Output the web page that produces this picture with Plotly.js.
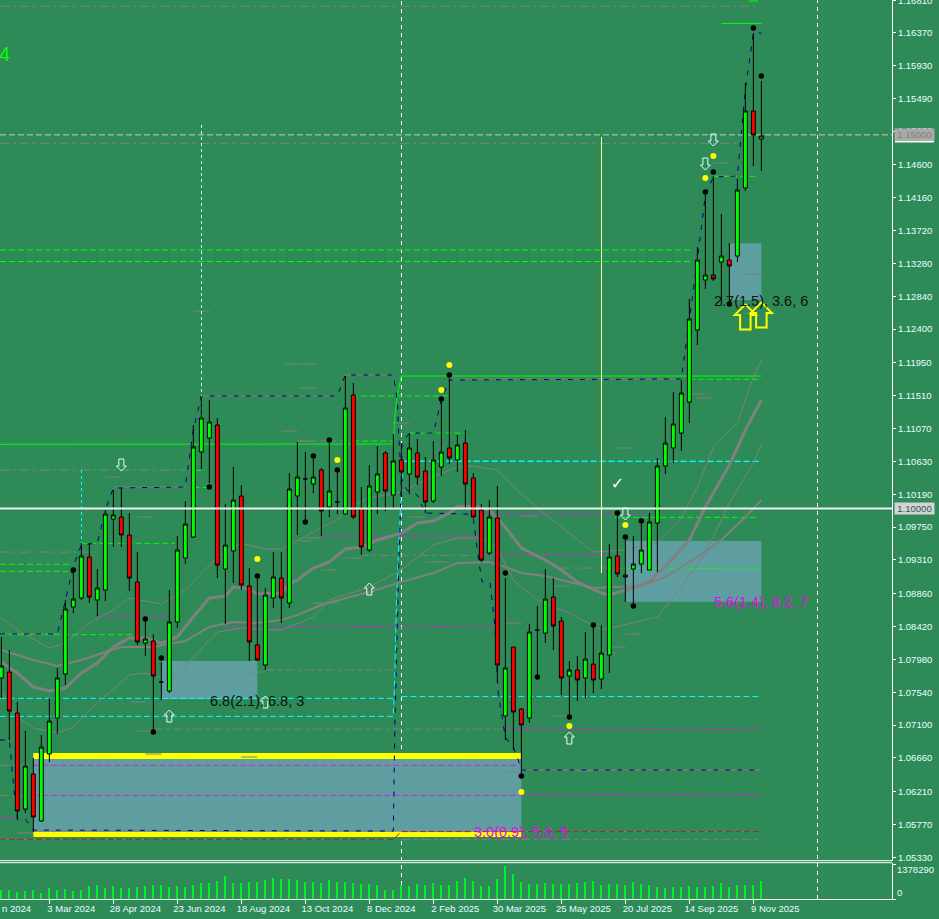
<!DOCTYPE html>
<html><head><meta charset="utf-8">
<script src="https://cdn.plot.ly/plotly-3.0.1.min.js"></script>
<style>html,body{margin:0;padding:0;background:#2E8B57;overflow:hidden}#c{width:939px;height:919px}</style>
</head><body><div id="c"></div>
<script>
// ---------- weekly candles, bar index 0..95 ----------
const barOpen=[1.07730,1.07810,1.07262,1.05977,1.06445,1.05816,1.06713,1.07195,1.07784,1.08680,1.08801,1.09350,1.08774,1.08908,1.09858,1.09885,1.09644,1.09015,1.08198,1.08225,1.07676,1.07556,1.08480,1.09336,1.09617,1.10755,1.10942,1.11116,1.09189,1.09430,1.10166,1.08961,1.08172,1.07904,1.08801,1.09068,1.08734,1.10166,1.10394,1.10327,1.10514,1.10019,1.10086,1.09925,1.11518,1.10005,1.09443,1.10220,1.10742,1.10179,1.10648,1.10461,1.10742,1.10501,1.10099,1.10554,1.10809,1.10648,1.10875,1.10407,1.09979,1.09403,1.09872,1.07221,1.08145,1.07315,1.07195,1.08372,1.08332,1.08814,1.08493,1.07757,1.07837,1.07730,1.07917,1.07717,1.08038,1.09363,1.09109,1.09189,1.09256,1.09176,1.09805,1.10568,1.10809,1.11009,1.11424,1.12388,1.13057,1.13124,1.13298,1.13325,1.13378,1.14289,1.15319,1.14944];
const barClose=[1.07891,1.07288,1.05950,1.06552,1.05869,1.06806,1.07154,1.07730,1.08654,1.08787,1.09363,1.08814,1.08935,1.09925,1.09912,1.09644,1.09068,1.08212,1.08252,1.07757,1.07676,1.08480,1.09443,1.09791,1.10822,1.11210,1.11157,1.09242,1.09510,1.10112,1.08975,1.08212,1.07971,1.08841,1.09082,1.08801,1.10260,1.10420,1.10394,1.10420,1.09965,1.10233,1.10086,1.11344,1.09885,1.09483,1.10300,1.10461,1.10233,1.10635,1.10487,1.10809,1.10420,1.10086,1.10648,1.10755,1.10675,1.10849,1.10327,1.09885,1.09309,1.09885,1.07904,1.07864,1.07275,1.07101,1.08346,1.08372,1.08787,1.08426,1.07730,1.07837,1.07703,1.07984,1.07703,1.08065,1.09350,1.09122,1.09082,1.09256,1.09443,1.09818,1.10568,1.10875,1.11130,1.11545,1.12535,1.13325,1.13124,1.13071,1.13378,1.13245,1.14262,1.15319,1.14998,1.14985];
const barHigh=[1.08279,1.08105,1.07409,1.07021,1.06659,1.06967,1.07462,1.07864,1.08774,1.09176,1.09537,1.09537,1.09189,1.09979,1.10246,1.10273,1.09938,1.09416,1.08506,1.08319,1.07944,1.08908,1.09631,1.10099,1.11116,1.11505,1.11451,1.11210,1.10059,1.10554,1.10313,1.09202,1.09055,1.08935,1.09416,1.09416,1.10474,1.10889,1.10755,1.10661,1.10541,1.10875,1.10474,1.11772,1.11679,1.10287,1.10581,1.10835,1.10768,1.10996,1.10875,1.11009,1.10929,1.10688,1.10902,1.11464,1.11745,1.10983,1.11049,1.10474,1.10059,1.10112,1.10300,1.09068,1.08145,1.07328,1.08453,1.08694,1.09189,1.09068,1.08546,1.07958,1.08024,1.08346,1.08439,1.08439,1.09524,1.09912,1.09577,1.09631,1.09791,1.09938,1.10675,1.11223,1.11558,1.11719,1.12803,1.13499,1.14195,1.14449,1.13941,1.13552,1.14409,1.15694,1.16363,1.15721];
const barLow=[1.07462,1.06900,1.05829,1.05923,1.05669,1.05803,1.06606,1.06980,1.07636,1.08600,1.08774,1.08734,1.08560,1.08761,1.09483,1.09483,1.08894,1.08172,1.08024,1.07034,1.07436,1.07529,1.08399,1.09256,1.09604,1.10527,1.10340,1.09068,1.08453,1.09002,1.08908,1.07958,1.07958,1.07837,1.08667,1.08466,1.08667,1.09644,1.09845,1.10206,1.09631,1.09885,1.09925,1.09925,1.09858,1.09376,1.09416,1.09925,1.09965,1.09992,1.10153,1.10193,1.10313,1.09938,1.10072,1.10434,1.10594,1.10487,1.09979,1.09872,1.09283,1.09376,1.07676,1.06900,1.06766,1.06458,1.07128,1.07770,1.08198,1.08105,1.07502,1.07208,1.07422,1.07462,1.07529,1.07583,1.07797,1.09082,1.08747,1.08734,1.09135,1.09176,1.09149,1.10461,1.10608,1.10768,1.11143,1.12187,1.12937,1.13044,1.12723,1.12763,1.13298,1.14248,1.14583,1.14516];
const volumes=[354400,354400,275700,315000,354400,236300,433200,354400,393800,315000,354400,511950,551300,433200,511950,433200,433200,472600,511950,551300,551300,472600,511950,472600,551300,630100,630100,708900,905800,630100,630100,669500,669500,748200,827000,787600,787600,748200,669500,669500,630100,748200,669500,669500,630100,590700,590700,551300,354400,354400,551300,511950,590700,551300,630100,551300,551300,708900,827000,708900,511950,511950,787600,1299500,984500,669500,590700,590700,630100,590700,590700,590700,630100,669500,708900,551300,590700,590700,551300,669500,590700,551300,472600,433200,472600,472600,511950,472600,472600,511950,630100,472600,551300,551300,551300,708900];
const barIndex=volumes.map((v,i)=>i);

// ---------- axis labels ----------
const priceTickVals=[1.16800,1.16370,1.15930,1.15490,1.15050,1.14600,1.14160,1.13720,1.13280,1.12840,1.12400,1.11950,1.11510,1.11070,1.10630,1.10190,1.09750,1.09310,1.08860,1.08420,1.07980,1.07540,1.07100,1.06660,1.06210,1.05770,1.05330];
const priceTickText=["1.16810","1.16370","1.15930","1.15490","1.15050","1.14600","1.14160","1.13720","1.13280","1.12840","1.12400","1.11950","1.11510","1.11070","1.10630","1.10190","1.09750","1.09310","1.08860","1.08420","1.07980","1.07540","1.07100","1.06660","1.06210","1.05770","1.05330"];
const dateTickVals=[6,14,22,30,38,46,54,62,70,78,86,94];
const dateTickText=["3 Mar 2024","28 Apr 2024","23 Jun 2024","18 Aug 2024","13 Oct 2024","8 Dec 2024","2 Feb 2025","30 Mar 2025","25 May 2025","20 Jul 2025","14 Sep 2025","9 Nov 2025"];

// ---------- moving averages and bands ----------
const fastK=[0,2,4,6,8,10,12,14,16,18,20,22,24,26,28,29,31,32,35,36,37,39,41,43,45,47,50,52,54,56,57,59,61,63,65,68,70,72,75,76,79,81,84,86,88,91,93,95];
const fastP=[1.07944,1.07797,1.07610,1.07556,1.07596,1.07797,1.07931,1.08145,1.08265,1.08265,1.08198,1.08279,1.08546,1.08801,1.08828,1.08948,1.08921,1.08854,1.08868,1.08988,1.09042,1.09202,1.09283,1.09457,1.09483,1.09577,1.09671,1.09805,1.09831,1.09938,1.10019,1.10032,1.09979,1.09751,1.09470,1.09309,1.09176,1.09015,1.08868,1.08841,1.08935,1.09015,1.09336,1.09577,1.10019,1.10581,1.11049,1.11451];
const slowK=[0,4,7,10,13,15,19,23,26,29,32,35,37,40,44,46,50,54,57,61,63,65,68,71,74,80,83,87,90,93,95];
const slowP=[1.08105,1.07971,1.07891,1.07971,1.08078,1.08145,1.08145,1.08225,1.08413,1.08480,1.08466,1.08506,1.08573,1.08707,1.08828,1.08881,1.09015,1.09135,1.09269,1.09283,1.09216,1.09135,1.09095,1.09015,1.08935,1.08961,1.09082,1.09350,1.09577,1.09885,1.10112];
const bandUpK=[0,2,6,8,11,14,16,20,23,27,30,33,35,39,40,42,44,46,50,53,57,59,62,64,67,70,74,78,82,85,87,89,92,94,95];
const bandUpP=[1.08533,1.08372,1.08132,1.08198,1.08466,1.08640,1.08801,1.08720,1.08908,1.09350,1.09537,1.09457,1.09457,1.09684,1.09751,1.09845,1.10046,1.10139,1.10220,1.10380,1.10554,1.10568,1.10514,1.10287,1.10005,1.09751,1.09416,1.09443,1.09550,1.09872,1.10287,1.10822,1.11143,1.11759,1.11986];
const bandLoK=[0,2,4,7,9,12,16,18,20,22,24,27,30,35,39,41,46,50,54,57,60,62,64,67,71,75,82,85,88,91,94,95];
const bandLoP=[1.07569,1.07208,1.07061,1.06994,1.07074,1.07395,1.07770,1.07797,1.07730,1.07743,1.08011,1.08346,1.08399,1.08372,1.08546,1.08774,1.08948,1.09176,1.09510,1.09604,1.09604,1.09470,1.09042,1.08774,1.08600,1.08372,1.08546,1.08948,1.09403,1.10072,1.10608,1.10862];

// ---------- zigzag (navy) ----------
const zigAK=[-0.17,7,8,9,10,12,13,14,23,24,25,42,43,49,49.5,49.7,50,50.7,52,53,58.2,59,59.6,60.1,61.1,61.7,62.1,63,64,64.5,65,95];
const zigAP=[1.08319,1.08319,1.08761,1.09229,1.09510,1.09537,1.09979,1.10273,1.10287,1.11049,1.11505,1.11505,1.11786,1.11786,1.11451,1.10916,1.10407,1.10246,1.10179,1.09938,1.09925,1.09872,1.09350,1.09015,1.09002,1.08413,1.07529,1.06940,1.06806,1.06673,1.06499,1.06499];
const zigBK=[-0.17,1,1.2,1.7,2,3,4,49,49.2,49.4,49.7,50,50.1,51,54,55,56,85,86,87,88,89,92,93,94,95];
const zigBP=[1.06900,1.06900,1.06673,1.06097,1.05856,1.05843,1.05695,1.05682,1.07168,1.07971,1.09309,1.10407,1.10875,1.11009,1.11009,1.11451,1.11719,1.11732,1.12522,1.13325,1.14195,1.14436,1.14449,1.15600,1.16363,1.16363];

// ---------- stepped level lines ----------
const limeStepK=[-0.17,49,49.2,49.5,50,95];
const limeStepP=[1.10858,1.10862,1.11250,1.11518,1.11772,1.11772];
const cyanStepK=[-0.17,49,49.2,49.4,49.7,50,50.2,95];
const cyanStepP=[1.07217,1.07217,1.07837,1.08774,1.09577,1.10246,1.10635,1.10630];
const brownStepK=[-0.17,49,50,95];
const brownStepP=[1.05571,1.05571,1.05675,1.05675];

// ---------- horizontal levels: start bar, end bar, price ----------
const limeSolidK0=[90,93.4], limeSolidK1=[95,94.6], limeSolidP=[1.16490,1.16792];
const limeDashK0=[-0.17,-0.17,-0.17,-0.17,10,-0.17,24.3,24,43.8,51,44,76.7,76.7,86,89];
const limeDashK1=[86.5,86.5,8.9,8.9,21.7,17,25.5,26.3,56,58,49,95,94.6,95,94.6];
const limeDashP=[1.13459,1.13305,1.09252,1.09158,1.09533,1.08310,1.10510,1.10282,1.11505,1.11009,1.10902,1.09198,1.09881,1.11728,1.14445];
const cyanDashK0=[50,50,-0.17], cyanDashK1=[95,95,49], cyanDashP=[1.10630,1.07482,1.07458];
const grayDashK0=[-0.17,-0.17,-0.17,-0.17,33,19,44.8,70,37.3,-0.17,50,50,-0.17,-0.17];
const grayDashK1=[95,91.9,24,12.4,49,63,60,76,44,49,95,95,4,4];
const grayDashP=[1.16721,1.14887,1.10514,1.09416,1.07837,1.07047,1.09372,1.09202,1.10902,1.05571,1.05571,1.05675,1.06562,1.06160];
const graySolidK0=[14,-0.17,25,43,56,65,4,89], graySolidK1=[23,7,42,49,85,95,49,92];
const graySolidP=[1.10287,1.08319,1.11505,1.11786,1.11732,1.06499,1.05682,1.14449];
const magentaDashK0=[58.6,39.8,28,12,60,63,4,4,-0.17];
const magentaDashK1=[81,59.8,61.7,20.7,76,95,65,95,2];
const magentaDashP=[1.09921,1.09627,1.08409,1.08556,1.09372,1.07047,1.06562,1.06160,1.05860];
const stubK=[13,17,16,31,35,37,49,51,38,37.3,43,40,53,39,65,63,69,89,93,93,77,86,87,78,76,75,18,30,17,2,63,72,69,24,35.5,37.5,37.3];
const stubLen=[2,2,2,2,2,2,2,2,2,1.5,2,2,3,3,2,2,2,2,2,1,2,2,2,2,2,2,2,2,2,2,2,2,2,2,2,2,2];
const stubP=[1.10420,1.09885,1.07409,1.07810,1.11036,1.10902,1.11143,1.09885,1.09604,1.09564,1.09336,1.09176,1.09283,1.08734,1.09898,1.08466,1.08961,1.14623,1.13138,1.12616,1.10809,1.11531,1.11478,1.08319,1.08145,1.08065,1.06713,1.06673,1.07021,1.05655,1.06472,1.06485,1.07221,1.12642,1.11933,1.11933,1.11612];

// ---------- zones ----------
const zoneK0=[4,20,78,91], zoneK1=[65,32,95,95];
const zoneTop=[1.06726,1.07958,1.09564,1.13548], zoneBottom=[1.05673,1.07445,1.08751,1.12789];
const bandK0=[4,4], bandK1=[65,65], bandTop=[1.06726,1.05673], bandBottom=[1.06646,1.05602];

// ---------- markers ----------
const blackK=[9,18,19,20,26,32,38,39,41,42,55,56,63,65,67,71,74,77,78,79,80,88,89,91,94,95];
const blackP=[1.09176,1.08520,1.07007,1.07998,1.10287,1.09095,1.09818,1.10701,1.10916,1.10514,1.11464,1.11786,1.09135,1.06418,1.07743,1.07208,1.08439,1.09938,1.09617,1.08694,1.09831,1.14235,1.14503,1.12736,1.16430,1.15788];
const yellowK=[32,42,55,56,65,71,78,88,89];
const yellowP=[1.09323,1.10648,1.11585,1.11919,1.06204,1.07087,1.09778,1.14422,1.14717];
const downK=[15,78,88,89], downP=[1.10581,1.09925,1.14610,1.14931];
const upK=[21,33,46,71], upP=[1.07221,1.07409,1.08921,1.06927];
const bigUpK=[93,95], bigUpP=[1.12562,1.12589];
const checkK=[77], checkP=[1.10313];

// ---------- notes ----------
const noteText=["6.8(2.1), 6.8, 3","2.7(1.5), 3.6, 6","5.6(1.4), 8.2, 7","3.0(0.9), 5.3, 5"];
const noteK=[25.85,88.85,88.85,58.85];
const noteP=[1.07422,1.12776,1.08747,1.05669];

// ---------- helpers ----------
const BG='#2E8B57', DASH='6px,3px', DOT='3px,3px', DASHDOT='9px,4px,3px,4px', NAVY='5px,7px';
const shapes=[];
function poly(k,p,color,dash,width,layer){
  shapes.push({type:'path',xref:'x',yref:'y',layer:layer||'below',
    path:k.map((v,i)=>(i?'L':'M')+v+','+p[i]).join(' '),
    line:{color,dash:dash||'solid',width:width||1}});
}
function levels(k0,k1,p,color,dash,width){
  p.forEach((v,i)=>poly([k0[i],k1[i]],[v,v],color,dash,width));
}
function rects(k0,k1,t,b,color){
  t.forEach((v,i)=>shapes.push({type:'rect',xref:'x',yref:'y',layer:'below',x0:k0[i],x1:k1[i],y0:b[i],y1:v,
    fillcolor:color,line:{width:0}}));
}
function arrows(k,p,dir,scale,color,width){
  const w=5*scale, h=6*scale, s=2.5*scale, n=1*scale, d=dir;
  const pathStr=`M0,${d*h} L${w},${d*n} L${s},${d*n} L${s},${-d*h} L${-s},${-d*h} L${-s},${d*n} L${-w},${d*n} Z`;
  k.forEach((v,i)=>shapes.push({type:'path',xref:'x',yref:'y',xsizemode:'pixel',ysizemode:'pixel',xanchor:v,yanchor:p[i],
    layer:'above',path:pathStr,fillcolor:'rgba(0,0,0,0)',line:{color,width}}));
}
rects(zoneK0,zoneK1,zoneTop,zoneBottom,'#5F9EA0');
rects(bandK0,bandK1,bandTop,bandBottom,'#FFFF00');
levels(graySolidK0,graySolidK1,graySolidP,'#808080','solid',1);
levels(grayDashK0,grayDashK1,grayDashP,'#808080',DASHDOT,1);
stubK.forEach((k,i)=>poly([k,k+stubLen[i]],[stubP[i],stubP[i]],'#808080','solid',1));
levels(limeDashK0,limeDashK1,limeDashP,'#00FF00',DASH,1);
levels(limeSolidK0,limeSolidK1,limeSolidP,'#00FF00','solid',1);
poly(limeStepK,limeStepP,'#00FF00','solid',1);
levels(cyanDashK0,cyanDashK1,cyanDashP,'#00FFFF',DASH,1);
poly(cyanStepK,cyanStepP,'#00FFFF',DASH,1);
poly(brownStepK,brownStepP,'#A52A2A',DASH,1);
levels(magentaDashK0,magentaDashK1,magentaDashP,'#D81FD8',DASH,1);
poly(bandLoK,bandLoP,'#808080','solid',1);
poly(bandUpK,bandUpP,'#808080','solid',1);
poly(slowK,slowP,'#808080','solid',2);
poly(fastK,fastP,'#808080','solid',3);
poly(zigAK,zigAP,'#000080',NAVY,1);
poly(zigBK,zigBP,'#000080',NAVY,1);
// chart-wide reference lines
poly([10.02,10.02],[1.10514,1.09510],'#00FFFF',DOT,1);
poly([25.02,25.02],[1.15132,1.11183],'#B8FFFF',DOT,1);
poly([75.02,75.02],[1.14971,1.09135],'#FFFF99','solid',1);
poly([-0.17,112],[1.15,1.15],'#C8C8C8',DASH,1);
poly([-0.17,112],[1.10,1.10],'#EFEFEF','solid',2,'above');
[[50.02,0.0156],[102.02,0]].forEach(v=>shapes.push({type:'line',xref:'x',yref:'paper',layer:'below',x0:v[0],x1:v[0],y0:v[1],y1:1,line:{color:'#FFFFFF',dash:'4px,4px',width:1}}));
// panel separators
[860.7,862.7].forEach(py=>shapes.push({type:'line',xref:'paper',yref:'paper',x0:0,x1:1,y0:1-py/899,y1:1-py/899,line:{color:'#FFFFFF',width:1}}));
shapes.push({type:'line',xref:'paper',yref:'y',x0:895/892,x1:934/892,y0:1.14911,y1:1.14911,line:{color:'#FFFFFF',width:2}});
arrows(downK,downP,-1,1,'#E0FFFF',1);
arrows(upK,upP,1,1,'#F4FFF0',1);
arrows(bigUpK,bigUpP,1,2.1,'#FFFF00',2);

const F='"Liberation Sans", Arial, sans-serif';
const traces=[
 {type:'bar',x:barIndex,y:volumes,xaxis:'x',yaxis:'y2',width:0.125,marker:{color:'#00F028',line:{width:0}},hoverinfo:'skip'},
 {type:'candlestick',x:barIndex,open:barOpen,close:barClose,high:barHigh,low:barLow,xaxis:'x',yaxis:'y',whiskerwidth:0,
  increasing:{line:{color:'#000000',width:1},fillcolor:'#00FF00'},
  decreasing:{line:{color:'#000000',width:1},fillcolor:'#FF0000'},hoverinfo:'skip'},
 {type:'scatter',mode:'markers',x:blackK,y:blackP,marker:{color:'#000000',size:5.5},hoverinfo:'skip'},
 {type:'scatter',mode:'markers',x:yellowK,y:yellowP,marker:{color:'#FFFF00',size:6},hoverinfo:'skip'},
 {type:'scatter',mode:'text',x:checkK,y:checkP,text:['✓'],textposition:'middle center',textfont:{family:'DejaVu Sans',size:16,color:'#FFFFFF'},hoverinfo:'skip'}
];

const annotations=noteText.map((t,i)=>({text:t,x:noteK[i],y:noteP[i],xref:'x',yref:'y',xanchor:'left',yanchor:'middle',showarrow:false,
  font:{family:F,size:14.5,color:i<2?'#111111':'#EE00EE'}}));
annotations.push({text:'4',xref:'paper',yref:'paper',x:-3/892,y:1-54/899,xanchor:'left',yanchor:'middle',showarrow:false,font:{family:F,size:20,color:'#00FF00'}});
annotations.push({text:'n 2024',xref:'paper',yref:'paper',x:0,y:-9/899,xanchor:'left',yanchor:'middle',showarrow:false,font:{family:F,size:9.5,color:'#E8FFFF'}});
annotations.push({text:'1.10000',xref:'paper',yref:'y',x:914.5/892,y:1.10,xanchor:'center',yanchor:'middle',showarrow:false,bgcolor:'#D3D3D3',width:39,height:11,borderpad:0,font:{family:F,size:9.5,color:'#1E5A50'}});
annotations.push({text:'1.15000',xref:'paper',yref:'y',x:914.5/892,y:1.15,xanchor:'center',yanchor:'middle',showarrow:false,bgcolor:'#A9A9A9',width:39,height:11,borderpad:0,font:{family:F,size:9.5,color:'#808080'}});
annotations.push({text:'1378290',xref:'paper',yref:'paper',x:895/892,y:(899-869.3)/899,xanchor:'left',yanchor:'middle',showarrow:false,font:{family:F,size:9.5,color:'#E8FFFF'}});
annotations.push({text:'0',xref:'paper',yref:'paper',x:895/892,y:(899-892.3)/899,xanchor:'left',yanchor:'middle',showarrow:false,font:{family:F,size:9.5,color:'#E8FFFF'}});

const layout={
 width:939,height:919,margin:{l:0,r:47,t:0,b:20,pad:0,autoexpand:false},
 paper_bgcolor:BG,plot_bgcolor:BG,showlegend:false,hovermode:false,dragmode:false,
 xaxis:{type:'linear',domain:[0,1],anchor:'y2',range:[-0.166,111.33],rangeslider:{visible:false},showgrid:false,zeroline:false,
  showline:true,linecolor:'#FFFFFF',linewidth:1,ticks:'outside',ticklen:4,tickcolor:'#FFFFFF',tickwidth:1,
  tickmode:'array',tickvals:dateTickVals,ticktext:dateTickText,ticklabelshift:22,ticklabelstandoff:-3,tickangle:0,tickfont:{family:F,size:9.5,color:'#E8FFFF'}},
 yaxis:{domain:[1-861/899,1],anchor:'x',side:'right',range:[1.05281,1.16805],showgrid:false,zeroline:false,
  showline:true,linecolor:'#FFFFFF',linewidth:1,ticks:'outside',ticklen:3,tickcolor:'#FFFFFF',tickwidth:1,ticklabeloverflow:'allow',
  tickmode:'array',tickvals:priceTickVals,ticktext:priceTickText,tickfont:{family:F,size:9.5,color:'#E8FFFF'}},
 yaxis2:{domain:[0,36/899],anchor:'x',side:'right',range:[0,1417700],showgrid:false,zeroline:false,
  showline:true,linecolor:'#FFFFFF',linewidth:1,ticks:'outside',ticklen:3,tickcolor:'#FFFFFF',tickwidth:1,
  tickmode:'array',tickvals:[1378290,0],ticktext:['',''],showticklabels:false},
 shapes,annotations
};
Plotly.newPlot('c',traces,layout,{displayModeBar:false,scrollZoom:false,doubleClick:false});
</script></body></html>
